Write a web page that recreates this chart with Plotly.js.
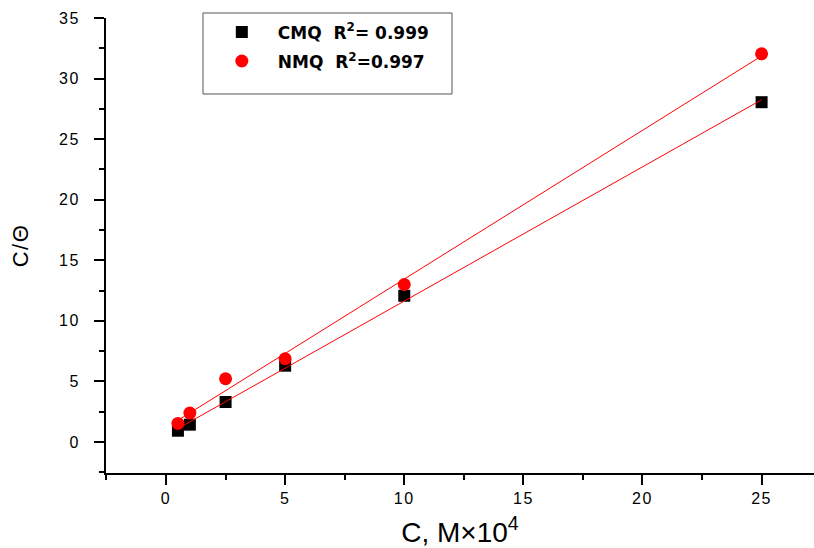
<!DOCTYPE html>
<html>
<head>
<meta charset="utf-8">
<script src="https://cdn.plot.ly/plotly-3.0.1.min.js"></script>
<style>
html,body{margin:0;padding:0;background:#fff;}
#chart .xtick text, #chart .ytick text { letter-spacing: 1.5px; }
#chart .ytitle { letter-spacing: 1.5px; }
</style>
</head>
<body>
<div id="chart" style="width:814px;height:548px;"></div>
<script>
// Data
const concentrations = [0.5, 1, 2.5, 5, 10, 25];          // C, M×10^4
const cmqValues = [0.93, 1.43, 3.3, 6.3, 12.07, 28.05];    // C/Θ for CMQ
const nmqValues = [1.53, 2.39, 5.22, 6.87, 13.0, 32.04];   // C/Θ for NMQ
const cmqLabel = "<b>CMQ\u00a0\u00a0R<sup>2</sup>= 0.999</b>";
const nmqLabel = "<b>NMQ\u00a0\u00a0R<sup>2</sup>=0.997</b>";
const xTickVals = [0, 5, 10, 15, 20, 25];
const yTickVals = [0, 5, 10, 15, 20, 25, 30, 35];

// Least-squares linear fit computed from the data
function linfit(xs, ys) {
  const n = xs.length;
  const mx = xs.reduce((a, b) => a + b, 0) / n;
  const my = ys.reduce((a, b) => a + b, 0) / n;
  let sxy = 0, sxx = 0;
  for (let i = 0; i < n; i++) { sxy += (xs[i] - mx) * (ys[i] - my); sxx += (xs[i] - mx) ** 2; }
  const m = sxy / sxx, b = my - m * mx;
  const xe = [xs[0], xs[n - 1]];
  return { x: xe, y: xe.map(v => m * v + b) };
}
const cmqFit = linfit(concentrations, cmqValues);
const nmqFit = linfit(concentrations, nmqValues);

const traces = [
  { x: concentrations, y: cmqValues, type: 'scatter', mode: 'markers', name: cmqLabel,
    legendgroup: 'a', marker: { symbol: 'square', size: 12, color: '#000' } },
  { x: concentrations, y: nmqValues, type: 'scatter', mode: 'markers', name: nmqLabel,
    legendgroup: 'b', marker: { symbol: 'circle', size: 13, color: '#ff0000' } },
  { x: cmqFit.x, y: cmqFit.y, type: 'scatter', mode: 'lines', showlegend: false,
    line: { color: '#ff0000', width: 1 }, hoverinfo: 'skip' },
  { x: nmqFit.x, y: nmqFit.y, type: 'scatter', mode: 'lines', showlegend: false,
    line: { color: '#ff0000', width: 1 }, hoverinfo: 'skip' }
];

const tickFont = { family: 'Liberation Sans, Arial, sans-serif', size: 16, color: '#000' };

const layout = {
  width: 814, height: 548,
  margin: { l: 106, r: 0, t: 18, b: 75 },
  paper_bgcolor: '#fff', plot_bgcolor: '#fff',
  showlegend: true,
  legend: {
    x: 0.141, xanchor: 'left', y: 1.008, yanchor: 'top',
    bgcolor: 'rgba(0,0,0,0)', borderwidth: 0,
    itemwidth: 62, tracegroupgap: 4,
    font: { family: 'DejaVu Sans, sans-serif', size: 17, color: '#000' }
  },
  xaxis: {
    range: [-2.52, 27.2], showgrid: false, zeroline: false,
    showline: true, linecolor: '#000', linewidth: 2, mirror: false,
    tickmode: 'array', tickvals: xTickVals,
    ticks: 'outside', ticklen: 10, tickwidth: 2, tickcolor: '#000',
    minor: { dtick: 2.5, tick0: 0, ticks: 'outside', ticklen: 5, tickwidth: 2, tickcolor: '#000', showgrid: false },
    tickfont: tickFont, ticklabelstandoff: 0,
    title: { text: '\u00a0C, M×10<sup>4</sup>', font: { family: 'Liberation Sans, Arial, sans-serif', size: 28, color: '#000' }, standoff: 16 }
  },
  yaxis: {
    range: [-2.56, 35], showgrid: false, zeroline: false,
    showline: true, linecolor: '#000', linewidth: 2, mirror: false,
    tickmode: 'array', tickvals: yTickVals,
    ticks: 'outside', ticklen: 10, tickwidth: 2, tickcolor: '#000',
    minor: { dtick: 2.5, tick0: 0, ticks: 'outside', ticklen: 5, tickwidth: 2, tickcolor: '#000', showgrid: false },
    tickfont: tickFont, ticklabelstandoff: 11,
    title: { text: 'C/Θ', font: { family: 'Liberation Sans, Arial, sans-serif', size: 22, color: '#000' }, standoff: 27 }
  },
  shapes: [
    { type: 'rect', xref: 'paper', yref: 'paper', x0: 0.137, x1: 0.4887, y0: 0.833, y1: 1.011,
      line: { color: '#555', width: 1 }, fillcolor: 'rgba(0,0,0,0)', layer: 'above' }
  ]
};

Plotly.newPlot('chart', traces, layout, { displayModeBar: false, staticPlot: true });
</script>
</body>
</html>
